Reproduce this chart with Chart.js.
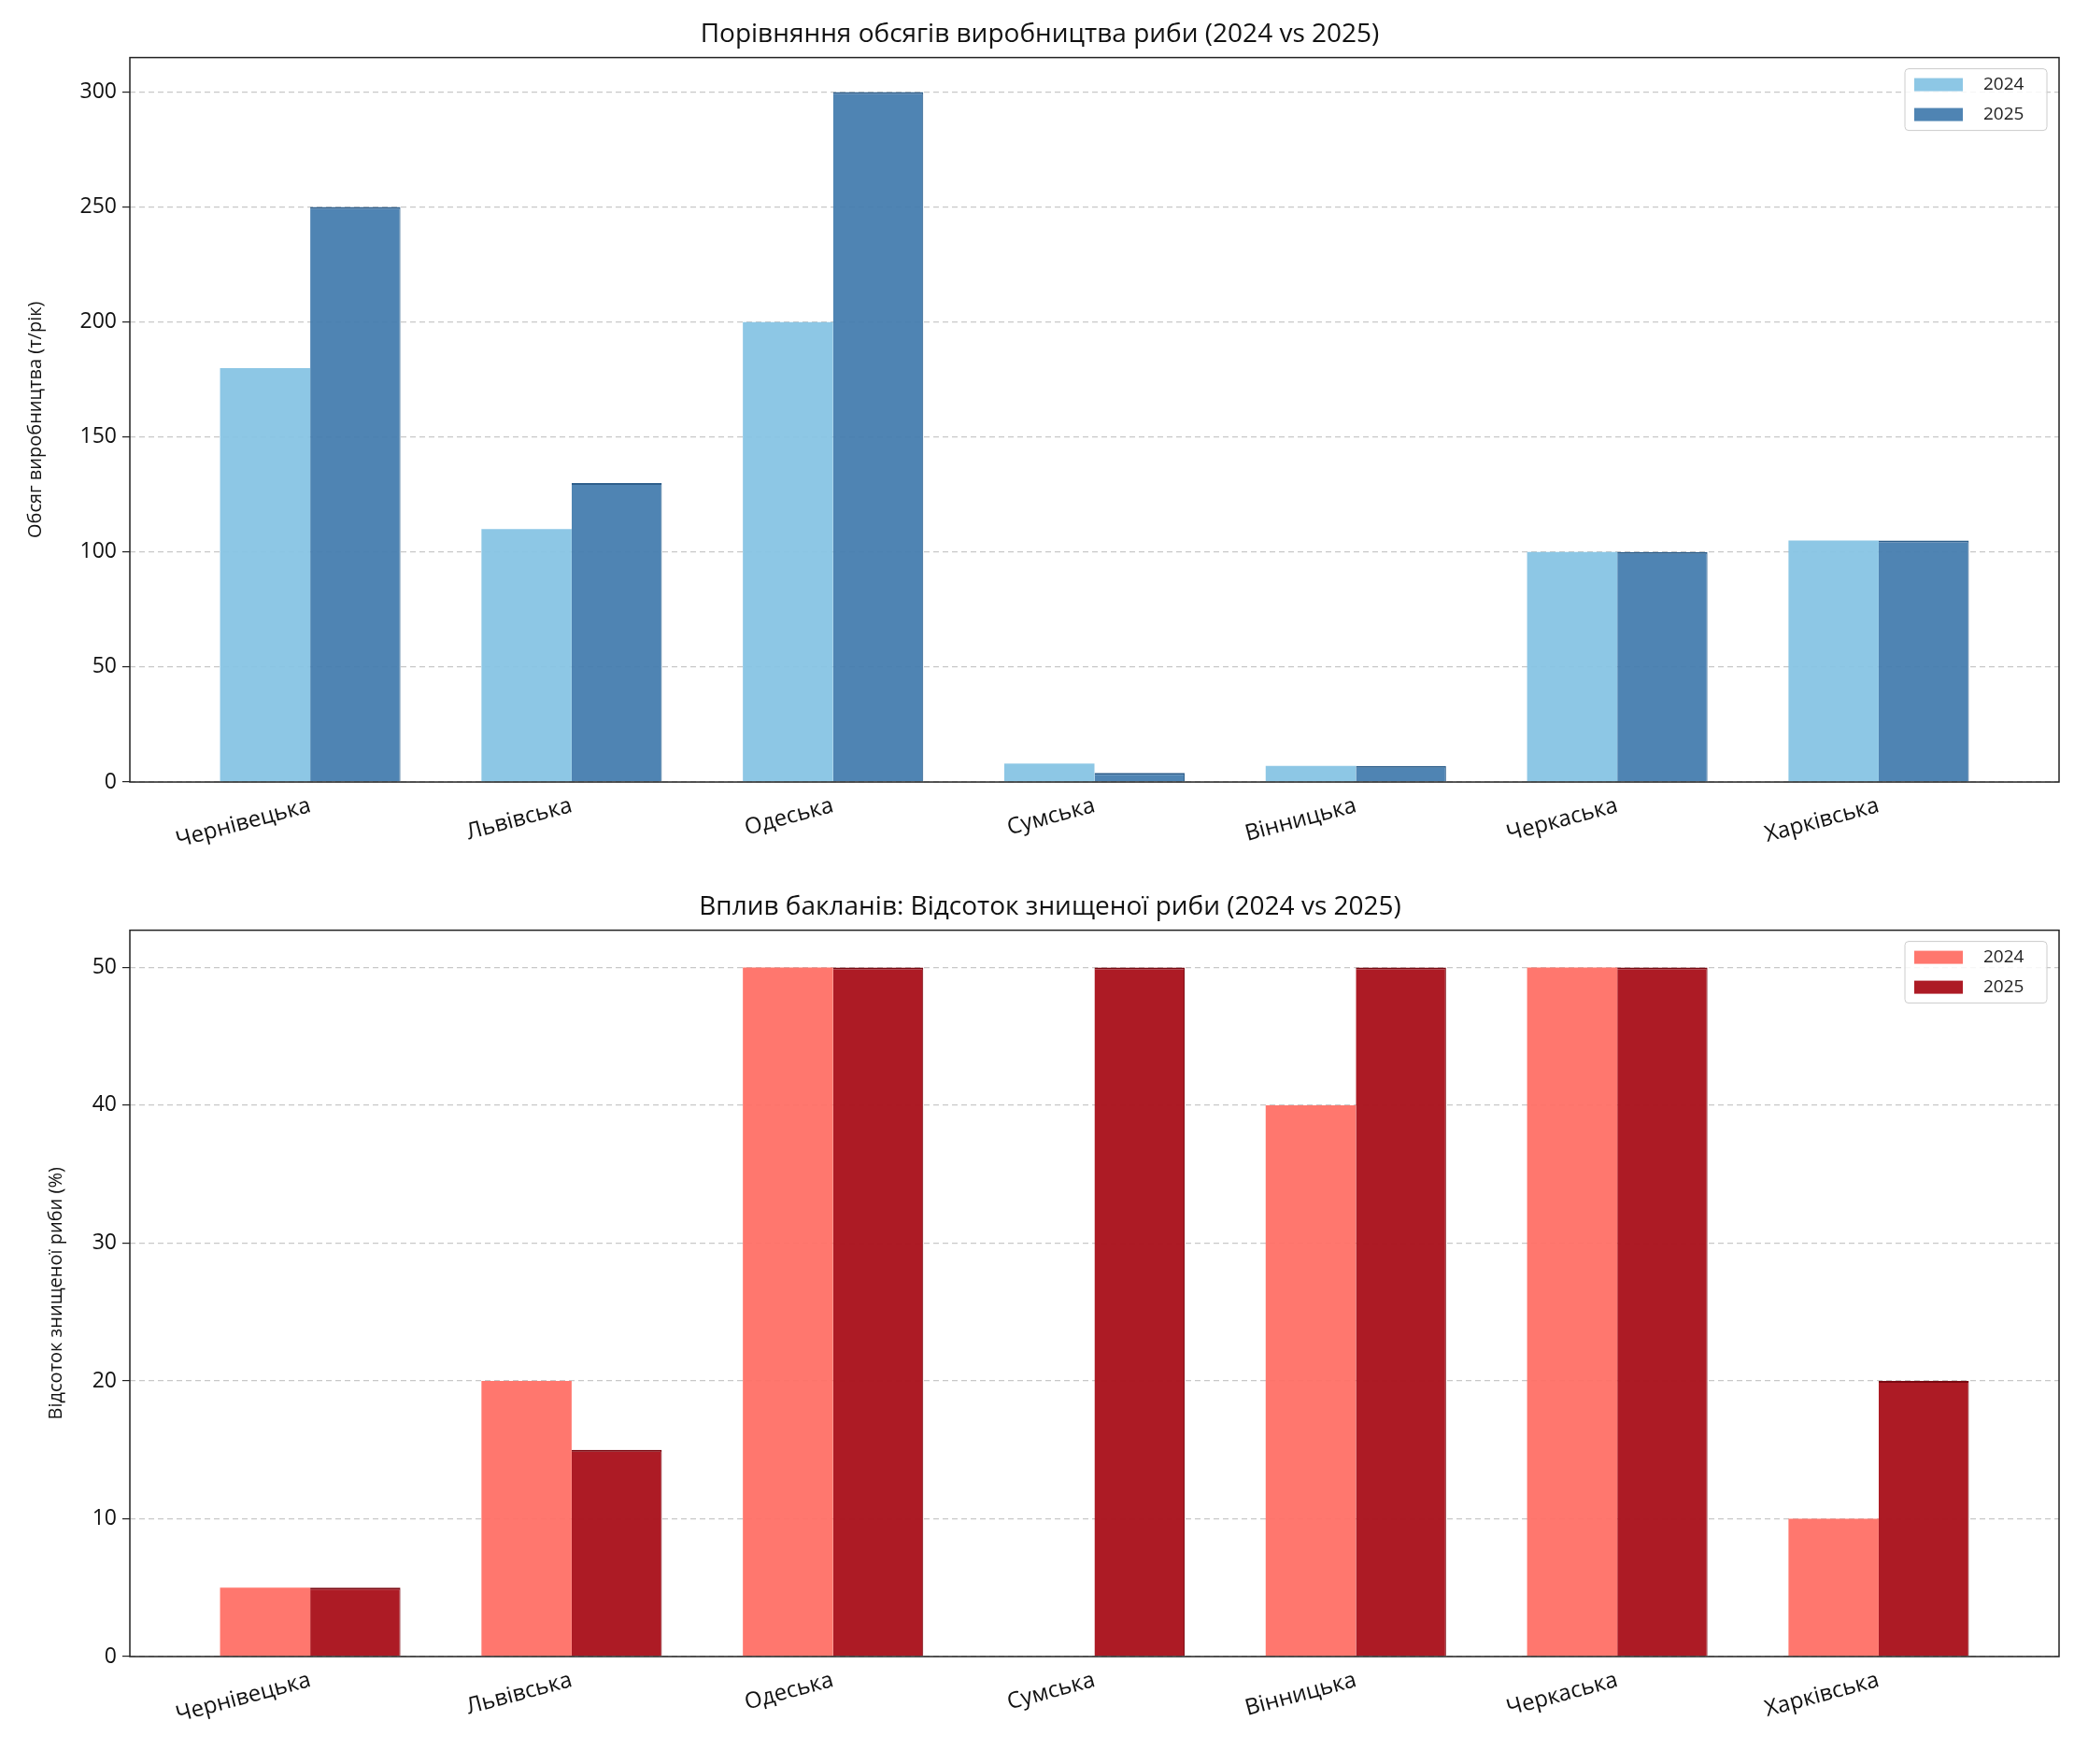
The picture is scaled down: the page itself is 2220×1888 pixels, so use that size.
<!DOCTYPE html>
<html><head><meta charset="utf-8">
<script src="https://cdn.jsdelivr.net/npm/chart.js@4/dist/chart.umd.min.js"></script>
<style>
body{margin:0;background:#fff;width:2220px;height:1888px;overflow:hidden;font-family:'Open Sans',sans-serif}
.box{position:absolute;left:0;width:2220px}
</style></head><body>
<div class="box" style="top:0;height:950px"><canvas id="c1"></canvas></div>
<div class="box" style="top:940px;height:948px"><canvas id="c2"></canvas></div>
<script>
const REGIONS = ['Чернівецька','Львівська','Одеська','Сумська','Вінницька','Черкаська','Харківська'];
const PROD_2024 = [180,110,200,8,7,100,105];
const PROD_2025 = [250,130,300,4,7,100,105];
const LOSS_2024 = [5,20,50,0,40,50,10];
const LOSS_2025 = [5,15,50,50,50,50,20];
const PROD_TICKS = [0,50,100,150,200,250,300];
const LOSS_TICKS = [0,10,20,30,40,50];

const FONT = "'Open Sans', sans-serif";
Chart.defaults.font.family = FONT;
Chart.defaults.color = '#111';

// frame + in-plot legend
const framePlugin = {
  id:'frame',
  afterDraw(chart){
    const {ctx, chartArea:a} = chart;
    ctx.save();
    ctx.strokeStyle='#222'; ctx.lineWidth=1.5;
    ctx.strokeRect(a.left,a.top,a.right-a.left,a.bottom-a.top);
    const bx=a.right-165, by=a.top+12, bw=152, bh=66;
    ctx.fillStyle='rgba(255,255,255,0.85)';
    ctx.strokeStyle='#ccc'; ctx.lineWidth=1;
    ctx.beginPath(); ctx.roundRect(bx,by,bw,bh,4); ctx.fill(); ctx.stroke();
    ctx.font='19px '+FONT; ctx.textBaseline='middle';
    chart.data.datasets.forEach((d,i)=>{
      const y=by+17+i*32;
      ctx.fillStyle=d.backgroundColor;
      ctx.fillRect(bx+10,y-7,52,14);
      ctx.fillStyle='#222';
      ctx.fillText(d.label,bx+84,y);
    });
    ctx.restore();
  }
};

function pts(vals){ return vals.map((v,i)=>({x:i,y:v})); }

function makeChart(id, a, b, colors, ticks, ymax, yTitle, title, titlePad, xh, padL){
  return new Chart(document.getElementById(id), {
    type:'bar',
    data:{datasets:[
      {label:'2024',data:pts(a),backgroundColor:colors[0],borderColor:colors[2],borderWidth:0},
      {label:'2025',data:pts(b),backgroundColor:colors[1],borderColor:colors[3],borderWidth:{top:2,left:0,right:1,bottom:0}}
    ]},
    options:{
      responsive:true,maintainAspectRatio:false,devicePixelRatio:1,animation:false,
      categoryPercentage:0.69,barPercentage:1,
      layout:{padding:{left:padL,right:16,top:0,bottom:0}},
      plugins:{
        legend:{display:false},tooltip:{enabled:false},
        title:{display:true,text:title,font:{size:28,weight:'normal'},color:'#111',padding:titlePad}
      },
      scales:{
        x:{type:'linear',min:-0.69,max:6.69,offset:false,
          grid:{display:false},border:{display:false},
          afterBuildTicks(s){ s.ticks=REGIONS.map((_,i)=>({value:i})); },
          afterFit(s){ s.height=xh; },
          ticks:{autoSkip:false,maxRotation:15,minRotation:15,font:{size:24},color:'#111',
            callback:v=>REGIONS[v]}},
        y:{min:0,max:ymax,
          afterBuildTicks(s){ s.ticks=ticks.map(v=>({value:v})); },
          afterFit(s){ s.width=139-padL; },
          border:{display:false,dash:[6,4]},
          grid:{color:'#c8c8c8',lineWidth:1.2,tickLength:8,tickColor:'#222',drawTicks:true},
          ticks:{font:{size:23},color:'#111',padding:6},
          title:{display:true,text:yTitle,font:{size:20},color:'#111',padding:{bottom:4}}}
      }
    },
    plugins:[framePlugin]
  });
}

makeChart('c1', PROD_2024, PROD_2025,
  ['rgba(135,196,228,0.95)','rgba(70,125,175,0.95)','#5aa0c8','#2e5f8c'],
  PROD_TICKS, 315, 'Обсяг виробництва (т/рік)',
  'Порівняння обсягів виробництва риби (2024 vs 2025)', {top:20,bottom:8}, 113, 22);
makeChart('c2', LOSS_2024, LOSS_2025,
  ['rgba(255,112,102,0.95)','rgba(170,20,30,0.97)','#e05a50','#7a0a12'],
  LOSS_TICKS, 52.7, 'Відсоток знищеної риби (%)',
  'Вплив бакланів: Відсоток знищеної риби (2024 vs 2025)', {top:14,bottom:8}, 115, 44);
</script>
</body></html>
